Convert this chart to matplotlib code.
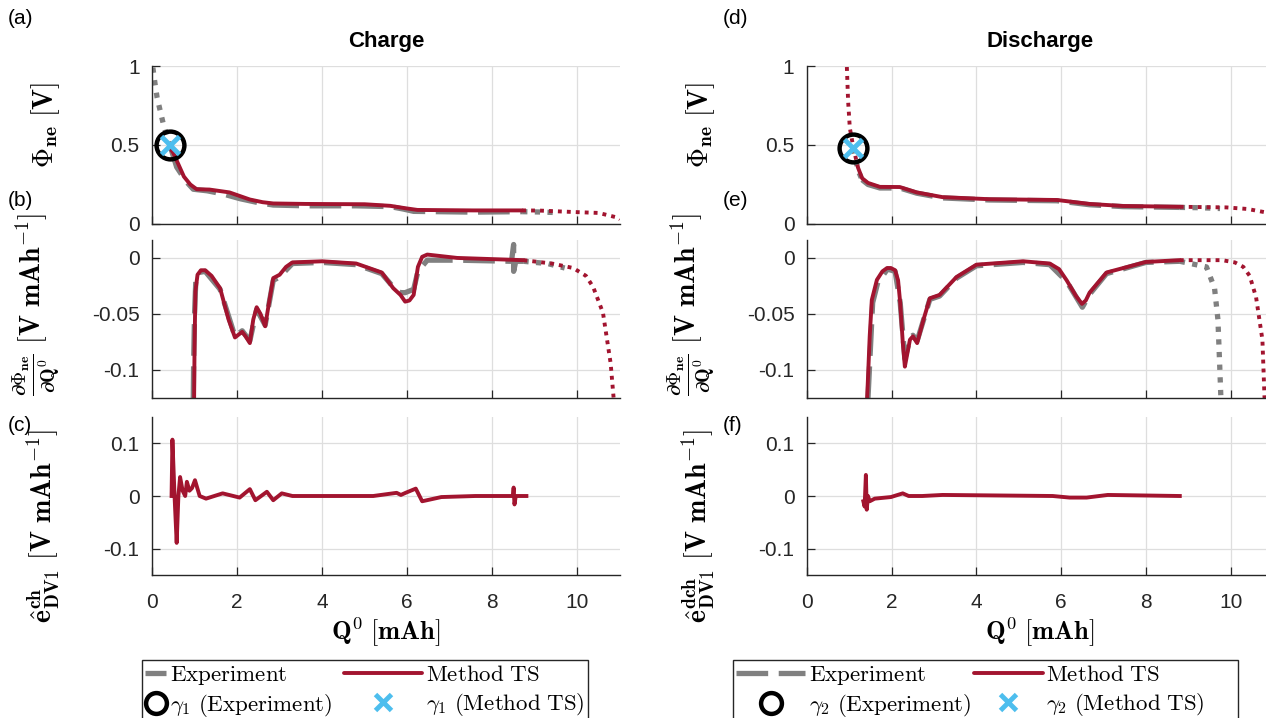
import matplotlib
matplotlib.use('Agg')
import matplotlib.pyplot as plt
from matplotlib.lines import Line2D
from matplotlib.patches import Rectangle
from matplotlib.legend_handler import HandlerLine2D

plt.rcParams['font.family'] = ['Liberation Sans', 'DejaVu Sans']
plt.rcParams['mathtext.fontset'] = 'cm'
plt.rcParams['axes.unicode_minus'] = False

# COLOURS
RED = '#A2142F'
BLUE = '#4DBEEE'
GRAY = '#808080'

# ---------------- CHARGE DATA ----------------
# (a) potential
ch_a_exp_pre_q = [0.02, 0.07, 0.12, 0.19, 0.26, 0.38, 0.42]
ch_a_exp_pre_v = [0.99, 0.89, 0.80, 0.72, 0.64, 0.53, 0.50]
ch_a_exp_q = [0.42, 0.58, 0.8, 0.97, 1.3, 1.67, 2.07, 2.5, 2.85, 3.6, 4.8, 5.6, 5.9, 6.15, 7.55, 8.7]
ch_a_exp_v = [0.50, 0.36, 0.27, 0.22, 0.21, 0.19, 0.16, 0.135, 0.12, 0.115, 0.115, 0.11, 0.095, 0.08, 0.075, 0.078]
ch_a_exp_post_q = [8.7, 9.1, 9.55]
ch_a_exp_post_v = [0.078, 0.076, 0.072]
ch_a_ts_q = [0.45, 0.5, 0.75, 0.9, 1.05, 1.35, 1.82, 2.3, 2.6, 2.85, 3.6, 5.0, 5.6, 5.95, 6.24, 7.55, 8.7]
ch_a_ts_v = [0.47, 0.45, 0.30, 0.25, 0.22, 0.218, 0.20, 0.155, 0.138, 0.13, 0.127, 0.125, 0.115, 0.1, 0.089, 0.086, 0.086]
ch_a_ts_post_q = [8.7, 9.1, 9.9, 10.5, 10.95, 11.0]
ch_a_ts_post_v = [0.086, 0.085, 0.076, 0.07, 0.04, 0.03]
ch_gamma_q = 0.42
ch_gamma_v = 0.50

# (b) differential voltage
ch_b_exp_q = [0.97, 0.98, 1.0, 1.03, 1.1, 1.25, 1.6, 1.95, 2.12, 2.3, 2.46, 2.66, 2.85, 3.0, 3.3,
              4.0, 4.8, 5.4, 5.67, 5.84, 5.95, 6.15, 6.25, 6.47, 7.17, 8.45, 8.5, 8.5, 8.55, 8.73]
ch_b_exp_dv = [-0.125, -0.09, -0.05, -0.02, -0.013, -0.012, -0.028, -0.07, -0.065, -0.074, -0.046, -0.06,
               -0.02, -0.017, -0.005, -0.004, -0.006, -0.014, -0.026, -0.031, -0.031, -0.028, -0.012,
               -0.002, -0.002, -0.003, 0.012, -0.012, -0.003, -0.003]
ch_b_exp_post_q = [8.73, 9.0, 9.3, 9.7]
ch_b_exp_post_dv = [-0.003, -0.004, -0.005, -0.009]
ch_b_ts_q = [0.99, 1.0, 1.02, 1.07, 1.15, 1.25, 1.4, 1.6, 1.8, 1.95, 2.05, 2.12, 2.2, 2.3, 2.38, 2.46,
             2.55, 2.66, 2.75, 2.85, 3.0, 3.15, 3.3, 4.0, 4.8, 5.4, 5.67, 5.84, 5.95, 6.05, 6.15, 6.25,
             6.35, 6.47, 7.17, 8.73]
ch_b_ts_dv = [-0.125, -0.08, -0.03, -0.015, -0.011, -0.011, -0.016, -0.027, -0.055, -0.071, -0.068,
              -0.066, -0.07, -0.076, -0.055, -0.044, -0.05, -0.061, -0.04, -0.018, -0.015, -0.008,
              -0.004, -0.003, -0.005, -0.013, -0.027, -0.033, -0.039, -0.038, -0.033, -0.008,
              0.001, 0.003, 0.0, -0.002]
ch_b_ts_post_q = [8.73, 9.4, 9.9, 10.2, 10.37, 10.6, 10.78, 10.85]
ch_b_ts_post_dv = [-0.002, -0.005, -0.009, -0.016, -0.026, -0.049, -0.094, -0.125]

# (c) error
ch_c_q = [0.46, 0.48, 0.53, 0.58, 0.62, 0.66, 0.72, 0.78, 0.82, 0.88, 0.94, 1.01, 1.12, 1.27, 1.66,
          2.06, 2.3, 2.43, 2.7, 2.85, 3.05, 3.3, 5.2, 5.75, 5.85, 5.96, 6.2, 6.35, 6.8, 7.6,
          8.48, 8.5, 8.52, 8.55, 8.8]
ch_c_e = [0.0, 0.107, 0.0, -0.089, 0.0, 0.036, 0.01, 0.0, 0.027, 0.01, 0.015, 0.030, 0.0, -0.005, 0.005,
          -0.003, 0.013, -0.008, 0.008, -0.008, 0.005, 0.0, 0.0, 0.006, 0.002, 0.006, 0.014, -0.01,
          -0.002, 0.0, 0.0, 0.016, -0.016, 0.0, 0.0]

# ---------------- DISCHARGE DATA ----------------
# (d) potential
dis_d_exp_pre_q = [1.08, 1.15, 1.22, 1.3]
dis_d_exp_pre_v = [0.478, 0.40, 0.33, 0.28]
dis_d_exp_q = [1.3, 1.44, 1.72, 2.19, 2.59, 3.2, 4.3, 5.9, 6.67, 7.46, 8.8]
dis_d_exp_v = [0.28, 0.25, 0.228, 0.228, 0.195, 0.165, 0.152, 0.147, 0.122, 0.11, 0.105]
dis_d_exp_post_q = [8.8, 9.3, 9.75]
dis_d_exp_post_v = [0.105, 0.103, 0.098]
dis_d_ts_pre_q = [0.93, 0.94, 0.97, 1.01, 1.09, 1.2]
dis_d_ts_pre_v = [1.05, 1.0, 0.78, 0.61, 0.49, 0.36]
dis_d_ts_q = [1.2, 1.3, 1.44, 1.72, 2.19, 2.59, 3.2, 4.3, 5.9, 6.67, 7.46, 8.8]
dis_d_ts_v = [0.36, 0.29, 0.26, 0.235, 0.234, 0.20, 0.17, 0.157, 0.152, 0.127, 0.114, 0.109]
dis_d_ts_post_q = [8.8, 9.9, 10.4, 10.8, 11.0]
dis_d_ts_post_v = [0.109, 0.105, 0.095, 0.075, 0.06]
dis_gamma_q = 1.08
dis_gamma_v = 0.478

# (e) differential voltage
dis_e_exp_q = [1.44, 1.55, 1.67, 1.9, 2.08, 2.2, 2.31, 2.43, 2.5, 2.6, 2.9, 3.13, 3.53, 4.0, 5.1,
               5.73, 6.13, 6.5, 6.68, 7.07, 8.0, 8.8]
dis_e_exp_dv = [-0.125, -0.04, -0.022, -0.010, -0.012, -0.04, -0.09, -0.072, -0.069, -0.074, -0.037,
                -0.034, -0.018, -0.007, -0.004, -0.006, -0.021, -0.044, -0.032, -0.014, -0.004, -0.003]
dis_e_exp_post_q = [8.8, 9.43, 9.62, 9.7, 9.74, 9.77]
dis_e_exp_post_dv = [-0.003, -0.008, -0.027, -0.055, -0.094, -0.125]
dis_e_ts_q = [1.42, 1.48, 1.53, 1.65, 1.78, 1.89, 1.98, 2.08, 2.15, 2.2, 2.26, 2.31, 2.37, 2.43, 2.5,
              2.6, 2.75, 2.9, 3.13, 3.53, 4.0, 5.1, 5.73, 5.95, 6.13, 6.35, 6.49, 6.58, 6.67, 7.07, 8.0, 8.8]
dis_e_ts_dv = [-0.125, -0.07, -0.0375, -0.0196, -0.012, -0.009, -0.009, -0.011, -0.02, -0.04, -0.075,
               -0.097, -0.085, -0.073, -0.070, -0.076, -0.055, -0.036, -0.033, -0.017, -0.006, -0.003,
               -0.005, -0.01, -0.02, -0.034, -0.041, -0.038, -0.031, -0.013, -0.0036, -0.002]
dis_e_ts_post_q = [8.8, 9.8, 10.1, 10.3, 10.45, 10.6, 10.75, 10.8]
dis_e_ts_post_dv = [-0.002, -0.002, -0.004, -0.008, -0.016, -0.035, -0.073, -0.125]

# (f) error
dis_f_q = [1.33, 1.36, 1.39, 1.41, 1.44, 1.48, 1.6, 1.98, 2.26, 2.4, 2.72, 3.2, 5.8, 6.2, 6.6, 7.1, 8.8]
dis_f_e = [-0.01, -0.02, 0.04, -0.026, 0.0, -0.01, -0.005, -0.002, 0.005, 0.0, 0.0, 0.002, 0.0,
           -0.003, -0.003, 0.002, 0.0]

# STYLES
EXP_DASH = dict(color=GRAY, lw=3.8, dashes=(6, 2), dash_capstyle='butt')
EXP_DOT = dict(color=GRAY, lw=3.8, dashes=(1, 1.4), dash_capstyle='butt')
TS_SOLID = dict(color=RED, lw=2.8, solid_capstyle='round', solid_joinstyle='round')
TS_DOT = dict(color=RED, lw=2.8, dashes=(1, 1.3), dash_capstyle='butt')
CIRC = dict(marker='o', ms=20, mfc='none', mec='black', mew=3.2, ls='none')
CROSS = dict(marker='x', ms=13, mec=BLUE, mew=3.5, ls='none')


class ExtHandler(HandlerLine2D):
    """legend handle stretched to the left by ext (in font-size units)"""
    def __init__(self, ext, **kw):
        super().__init__(**kw)
        self.ext = ext

    def create_artists(self, legend, orig_handle, xdescent, ydescent, width, height, fontsize, trans):
        e = self.ext * fontsize
        return super().create_artists(legend, orig_handle, xdescent + e, ydescent,
                                      width + e, height, fontsize, trans)


W, H = 1266, 718
fig = plt.figure(figsize=(W / 100, H / 100), dpi=100)


def make_ax(x0, ytop, width):
    ax = fig.add_axes([x0 / W, 1 - (ytop + 158) / H, width / W, 158 / H])
    ax.set_xlim(0, 11)
    ax.set_xticks([0, 2, 4, 6, 8, 10])
    ax.grid(True, color='#dedede', lw=0.9)
    ax.set_axisbelow(True)
    for s in ['top', 'right']:
        ax.spines[s].set_visible(False)
    for s in ['left', 'bottom']:
        ax.spines[s].set_color('#262626')
        ax.spines[s].set_linewidth(1.0)
    ax.tick_params(direction='in', length=6, width=0.9, colors='#262626',
                   labelsize=15, pad=9)
    ax.tick_params(axis='x', pad=13)
    return ax


YL_A = r'$\mathbf{\Phi_{ne}\ [V]}$'
YL_B = r'$\mathbf{\frac{\partial \Phi_{ne}}{\partial Q^0}\ [V\ mAh^{-1}]}$'
YL_C_CH = r'$\mathbf{\hat{e}^{ch}_{DV1}\ [V\ mAh^{-1}]}$'
YL_C_DIS = r'$\mathbf{\hat{e}^{dch}_{DV1}\ [V\ mAh^{-1}]}$'
XL = r'$\mathbf{Q^0\ [mAh]}$'

columns = [
    dict(x0=152, width=468, title='Charge', labels=['(a)', '(b)', '(c)'], lab_x=8,
         leg=dict(x=142, right=588, hl=0.9, cs=3.05, ext=2.5),
         a=[(ch_a_exp_pre_q, ch_a_exp_pre_v, EXP_DOT), (ch_a_exp_q, ch_a_exp_v, EXP_DASH),
            (ch_a_exp_post_q, ch_a_exp_post_v, EXP_DOT), (ch_a_ts_q, ch_a_ts_v, TS_SOLID),
            (ch_a_ts_post_q, ch_a_ts_post_v, TS_DOT)],
         gamma=(ch_gamma_q, ch_gamma_v),
         b=[(ch_b_exp_q, ch_b_exp_dv, EXP_DASH), (ch_b_exp_post_q, ch_b_exp_post_dv, EXP_DOT),
            (ch_b_ts_q, ch_b_ts_dv, TS_SOLID), (ch_b_ts_post_q, ch_b_ts_post_dv, TS_DOT)],
         c=(ch_c_q, ch_c_e), ylc=YL_C_CH, gname=r'\gamma_1'),
    dict(x0=807, width=466, title='Discharge', labels=['(d)', '(e)', '(f)'], lab_x=723,
         leg=dict(x=733, right=1238, hl=3.0, cs=0.13, ext=0.0),
         a=[(dis_d_exp_pre_q, dis_d_exp_pre_v, EXP_DOT), (dis_d_exp_q, dis_d_exp_v, EXP_DASH),
            (dis_d_exp_post_q, dis_d_exp_post_v, EXP_DOT), (dis_d_ts_pre_q, dis_d_ts_pre_v, TS_DOT),
            (dis_d_ts_q, dis_d_ts_v, TS_SOLID), (dis_d_ts_post_q, dis_d_ts_post_v, TS_DOT)],
         gamma=(dis_gamma_q, dis_gamma_v),
         b=[(dis_e_exp_q, dis_e_exp_dv, EXP_DASH), (dis_e_exp_post_q, dis_e_exp_post_dv, EXP_DOT),
            (dis_e_ts_q, dis_e_ts_dv, TS_SOLID), (dis_e_ts_post_q, dis_e_ts_post_dv, TS_DOT)],
         c=(dis_f_q, dis_f_e), ylc=YL_C_DIS, gname=r'\gamma_2'),
]

for col in columns:
    x0, wd = col['x0'], col['width']
    lab_off = -90 / wd

    # top: potential
    ax = make_ax(x0, 66, wd)
    for q, v, st in col['a']:
        ax.plot(q, v, **st)
    ax.plot(*col['gamma'], **CIRC)
    ax.plot(*col['gamma'], **CROSS)
    ax.set_ylim(0, 1)
    ax.set_yticks([0, 0.5, 1])
    ax.set_yticklabels(['0', '0.5', '1'])
    ax.set_xticklabels([])
    ax.set_title(col['title'], fontsize=16, fontweight='bold', pad=14)
    ax.set_ylabel(YL_A, fontsize=20)
    ax.yaxis.set_label_coords(lab_off, 0.63)

    # middle: differential voltage
    ax = make_ax(x0, 240, wd)
    for q, v, st in col['b']:
        ax.plot(q, v, **st)
    ax.set_ylim(-0.125, 0.016)
    ax.set_yticks([-0.1, -0.05, 0])
    ax.set_yticklabels(['-0.1', '-0.05', '0'])
    ax.set_xticklabels([])
    ax.set_ylabel(YL_B, fontsize=20)
    ax.yaxis.set_label_coords(lab_off, 0.59)

    # bottom: error
    ax = make_ax(x0, 417, wd)
    ax.plot(*col['c'], color=RED, lw=2.8, solid_joinstyle='round')
    ax.set_ylim(-0.15, 0.15)
    ax.set_yticks([-0.1, 0, 0.1])
    ax.set_yticklabels(['-0.1', '0', '0.1'])
    ax.set_ylabel(col['ylc'], fontsize=20)
    ax.yaxis.set_label_coords(lab_off, 0.31)
    ax.set_xlabel(XL, fontsize=19, labelpad=2)

    for lab, yy in zip(col['labels'], [18, 200, 425]):
        fig.text(col['lab_x'] / W, 1 - yy / H, lab, fontsize=15, va='center', ha='left')

    # legend (frame drawn separately so its width matches the original)
    g = col['gname']
    lg = col['leg']
    h_exp, h_circ = Line2D([], [], **EXP_DASH), Line2D([], [], **CIRC)
    h_ts, h_cross = Line2D([], [], **TS_SOLID), Line2D([], [], **CROSS)
    h_circ.set_markersize(15)
    h_cross.set_markersize(11)
    names = [r'$\mathrm{Experiment}$', r'$' + g + r'\ \mathrm{(Experiment)}$',
             r'$\mathrm{Method\ TS}$', r'$' + g + r'\ \mathrm{(Method\ TS)}$']
    fig.legend([h_exp, h_circ, h_ts, h_cross], names, ncol=2, loc='upper left',
               bbox_to_anchor=(lg['x'] / W, 1 - 660 / H), fontsize=16.5, frameon=False,
               handlelength=lg['hl'], handletextpad=0.15, columnspacing=lg['cs'],
               borderpad=0.15, labelspacing=0.2, borderaxespad=0,
               handler_map={h_ts: ExtHandler(lg['ext']), h_cross: ExtHandler(lg['ext'])})
    fig.add_artist(Rectangle((lg['x'] / W, -0.02), (lg['right'] - lg['x']) / W, 0.02 + 58 / H,
                             transform=fig.transFigure, fill=False, ec='#262626', lw=1.0))

fig.savefig('out.png', dpi=100)
